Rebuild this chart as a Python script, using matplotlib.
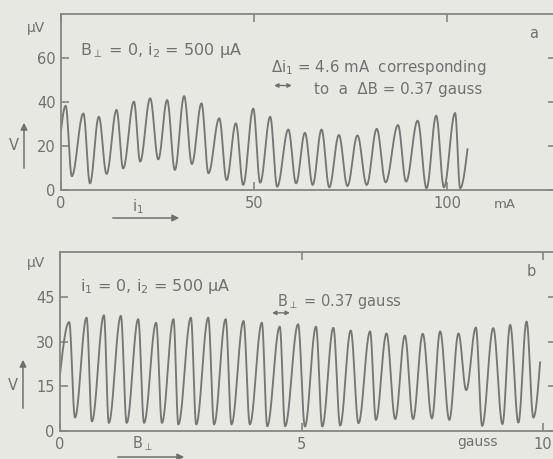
import numpy as np
import matplotlib
matplotlib.use("Agg")
import matplotlib.pyplot as plt

# ---------------- data ----------------
# Panel a: V vs i1 (mA)
a_start = (0.0, 27.0)
a_peak_x = [1.2, 5.8, 9.8, 14.4, 18.9, 23.1, 27.5, 31.9, 36.4, 41.0, 45.3, 49.8,
            54.2, 58.9, 63.2, 67.5, 72.0, 76.8, 81.8, 87.3, 92.4, 97.2, 102.1]
a_peak_v = [38.3, 34.8, 33.3, 36.4, 40.2, 41.7, 40.9, 42.7, 39.4, 32.6, 30.3, 37.0,
            33.3, 27.5, 26.0, 27.5, 25.0, 24.8, 27.8, 29.5, 31.5, 33.8, 35.0]
a_trough_x = [2.8, 7.5, 11.8, 16.1, 20.5, 25.2, 29.5, 33.9, 38.2, 42.9, 47.2, 51.6,
              56.0, 60.9, 65.2, 69.5, 74.2, 79.2, 84.1, 89.4, 94.7, 99.2, 103.4]
a_trough_v = [6.4, 3.0, 7.3, 9.8, 12.9, 13.9, 9.1, 11.8, 7.6, 4.5, 2.3, 3.3,
              1.5, 3.0, 2.3, 1.2, 1.8, 2.3, 3.5, 3.8, 0.8, 1.2, 0.8]
a_end = (105.3, 18.5)

# Panel b: V vs B_perp (gauss)
b_start = (0.0, 19.0)
b_peak_x = [0.19, 0.55, 0.91, 1.26, 1.62, 1.99, 2.35, 2.71, 3.07, 3.43, 3.80, 4.18,
            4.55, 4.93, 5.30, 5.66, 6.02, 6.42, 6.76, 7.14, 7.51, 7.87, 8.25, 8.61,
            8.97, 9.32, 9.66]
b_peak_v = [36.5, 38.0, 38.8, 38.6, 37.5, 36.3, 37.5, 38.0, 38.0, 37.5, 36.9, 36.3,
            35.0, 35.8, 35.0, 34.6, 33.7, 33.4, 32.7, 32.0, 32.6, 33.4, 32.7, 34.7,
            34.5, 35.6, 36.7]
b_trough_x = [0.31, 0.66, 1.01, 1.38, 1.74, 2.11, 2.45, 2.82, 3.19, 3.55, 3.93, 4.29,
              4.66, 5.07, 5.43, 5.80, 6.18, 6.54, 6.94, 7.31, 7.70, 8.06, 8.41, 8.74,
              9.16, 9.49, 9.80]
b_trough_v = [4.5, 3.2, 2.7, 2.7, 2.7, 2.7, 2.2, 2.2, 2.2, 2.2, 2.2, 1.6,
              1.6, 1.5, 1.5, 1.8, 2.6, 3.7, 4.0, 4.0, 4.2, 3.7, 13.7, 1.7,
              2.3, 2.8, 4.5]
b_end = (9.94, 23.0)

a_xticks = [0, 50, 100]
a_yticks = [0, 20, 40, 60]
b_xticks = [0, 5, 10]
b_yticks = [0, 15, 30, 45]

# ---------------- styling ----------------
W, H = 553, 459
BG = "#e8e8e3"
INK = "#707070"
LINE = "#767676"
plt.rcParams["font.family"] = ["DejaVu Sans"]
plt.rcParams["mathtext.fontset"] = "dejavusans"


def trace(start, px, pv, tx, tv, end, n=24):
    """Draw the recorder trace through the read extrema with smooth strokes."""
    kx = [start[0]]
    kv = [start[1]]
    for a, b, c, d in zip(px, pv, tx, tv):
        kx += [a, c]
        kv += [b, d]
    xs, vs = [], []
    t = np.linspace(0, 1, n)
    xs.append(kx[0] + t * (kx[1] - kx[0]))
    vs.append(kv[0] + (kv[1] - kv[0]) * np.sin(np.pi * t / 2))
    for i in range(1, len(kx) - 1):
        xs.append(kx[i] + t * (kx[i + 1] - kx[i]))
        vs.append(kv[i] + (kv[i + 1] - kv[i]) * (1 - np.cos(np.pi * t)) / 2)
    xs.append(kx[-1] + t * (end[0] - kx[-1]))
    vs.append(kv[-1] + (end[1] - kv[-1]) * (1 - np.cos(np.pi * t / 2)))
    return np.concatenate(xs), np.concatenate(vs)


def px2fig(x, y):
    return x / W, 1 - y / H


fig = plt.figure(figsize=(W / 100, H / 100), dpi=100)
fig.patch.set_facecolor(BG)


def make_axes(left, top, bottom, right=556):
    l, t = px2fig(left, top)
    _, b = px2fig(left, bottom)
    ax = fig.add_axes([l, b, (right - left) / W, t - b])
    ax.set_facecolor(BG)
    for s in ax.spines.values():
        s.set_color("#858585")
        s.set_linewidth(1.3)
    ax.tick_params(direction="in", length=6, width=1.2, color="#858585",
                   labelcolor=INK, labelsize=10.5, top=True, right=True, pad=4)
    return ax


# ---- panel a ----
axa = make_axes(61, 14, 190)
xa, va = trace(a_start, a_peak_x, a_peak_v, a_trough_x, a_trough_v, a_end)
axa.plot(xa, va, color=LINE, lw=1.35)
axa.set_xlim(0, (556 - 61) / 3.86)
axa.set_ylim(0, 80)
axa.set_xticks(a_xticks)
axa.set_yticks(a_yticks)
axa.set_xticklabels([str(v) for v in a_xticks])
axa.set_yticklabels([str(v) for v in a_yticks])
axa.text(0.038, 0.79, r"B$_{\perp}$ = 0, i$_2$ = 500 μA", transform=axa.transAxes,
         color=INK, fontsize=11.5, va="center")
axa.text(54.5, 55.5, "Δi$_1$ = 4.6 mA  corresponding", color=INK, fontsize=10.8,
         va="center")
axa.text(65.5, 45.5, "to  a  ΔB = 0.37 gauss", color=INK, fontsize=10.8, va="center")
axa.annotate("", xy=(59.8, 47.5), xytext=(55.2, 47.5),
             arrowprops=dict(arrowstyle="<|-|>", color=INK, lw=1.0,
                             mutation_scale=6, shrinkA=0, shrinkB=0))
axa.text(0.955, 0.89, "a", transform=axa.transAxes, color=INK, fontsize=10.5,
         ha="center", va="center")

# ---- panel b ----
axb = make_axes(60, 252, 431)
xb, vb = trace(b_start, b_peak_x, b_peak_v, b_trough_x, b_trough_v, b_end)
axb.plot(xb, vb, color=LINE, lw=1.35)
axb.set_xlim(0, (556 - 60) / 48.3)
axb.set_ylim(0, 60)
axb.set_xticks(b_xticks)
axb.set_yticks(b_yticks)
axb.set_xticklabels([str(v) for v in b_xticks])
axb.set_yticklabels([str(v) for v in b_yticks])
axb.text(0.04, 0.81, "i$_1$ = 0, i$_2$ = 500 μA", transform=axb.transAxes,
         color=INK, fontsize=11.5, va="center")
axb.text(4.5, 43.3, r"B$_{\perp}$ = 0.37 gauss", color=INK, fontsize=10.5,
         va="center")
axb.annotate("", xy=(4.76, 39.6), xytext=(4.39, 39.6),
             arrowprops=dict(arrowstyle="<|-|>", color=INK, lw=1.0,
                             mutation_scale=6, shrinkA=0, shrinkB=0))
axb.text(0.95, 0.89, "b", transform=axb.transAxes, color=INK, fontsize=10.5,
         ha="center", va="center")


# ---- figure-level labels (units and variable arrows) ----
def ftext(x, y, s, **kw):
    fx, fy = px2fig(x, y)
    fig.text(fx, fy, s, color=INK, ha="center", va="center", **kw)


def farrow(x0, y0, x1, y1):
    fig.add_artist(matplotlib.patches.FancyArrowPatch(
        px2fig(x0, y0), px2fig(x1, y1), transform=fig.transFigure,
        arrowstyle="-|>", mutation_scale=10, color=INK, lw=1.1))


ftext(36, 28, "μV", fontsize=10)
ftext(14, 146, "V", fontsize=10.5)
farrow(24, 171, 24, 120)
ftext(138, 207, "i$_1$", fontsize=10.5)
farrow(110, 218, 182, 218)
ftext(505, 205, "mA", fontsize=9.5)

ftext(36, 263, "μV", fontsize=10)
ftext(13, 385, "V", fontsize=10.5)
farrow(23, 411, 23, 357)
ftext(142, 444, r"B$_{\perp}$", fontsize=10.5)
farrow(115, 457, 187, 457)
ftext(477, 442, "gauss", fontsize=10)

fig.savefig("out.png", dpi=100, facecolor=BG)
